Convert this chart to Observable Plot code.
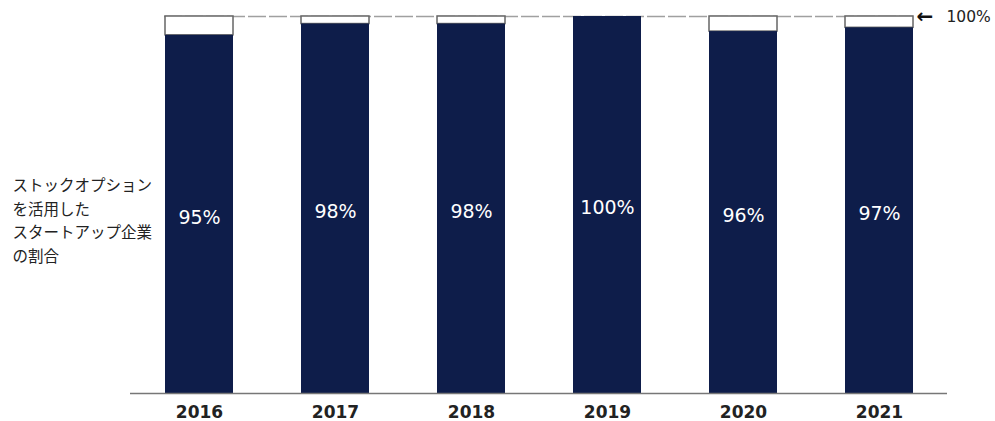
<!DOCTYPE html>
<html>
<head>
<meta charset="utf-8">
<script src="https://cdn.jsdelivr.net/npm/d3@7"></script>
<script src="https://cdn.jsdelivr.net/npm/@observablehq/plot@0.6"></script>
<style>
  html, body { margin: 0; padding: 0; background: #fff; }
  #chart svg { display: block; }
</style>
</head>
<body>
<div id="chart"></div>
<script>
const years = ["2016", "2017", "2018", "2019", "2020", "2021"];
const shares = [0.95, 0.98, 0.98, 1.00, 0.96, 0.97];
const shareLabels = ["95%", "98%", "98%", "100%", "96%", "97%"];
const yAxisLabel = "ストックオプション\nを活用した\nスタートアップ企業\nの割合";
const refArrow = "←";
const refLabel = "100%";

const data = years.map((y, i) => ({year: y, value: shares[i], label: shareLabels[i]}));
const dark = "#0e1d4a";

const chart = Plot.plot({
  width: 995,
  height: 421,
  marginLeft: 130,
  marginRight: 48,
  marginTop: 16,
  marginBottom: 28,
  style: {fontFamily: "'DejaVu Sans', Verdana, sans-serif", background: "#fff"},
  x: {domain: years, paddingInner: 0.5, paddingOuter: 0.25, label: null},
  y: {domain: [0, 1], axis: null},
  marks: [
    Plot.ruleY([1], {stroke: "#a0a0a0", strokeWidth: 1.5, strokeDasharray: "18,3", insetLeft: 34, insetRight: 34}),
    Plot.barY(data, {x: "year", y1: "value", y2: 1, fill: "#fff", stroke: "#666", strokeWidth: 1.5}),
    Plot.barY(data, {x: "year", y1: 0, y2: "value", fill: dark}),
    Plot.ruleY([0], {stroke: "#777", strokeWidth: 1.5}),
    Plot.text(data, {x: "year", y: d => d.value / 2, text: "label", fill: "#fff", fontSize: 19, dy: 3}),
    Plot.axisX({tickSize: 0, tickPadding: 12, fontSize: 17, fontWeight: "bold", fill: "#222"}),
    Plot.text([refArrow], {x: ["2021"], y: [1], text: d => d, textAnchor: "start", dx: 37, dy: 0, fontSize: 20, fontWeight: "bold", fill: "#111"}),
    Plot.text([refLabel], {x: ["2021"], y: [1], text: d => d, textAnchor: "start", dx: 67, dy: 1, fontSize: 15.5, fill: "#222"}),
    Plot.text([yAxisLabel], {frameAnchor: "left", textAnchor: "start", dx: -118, dy: 14, fontSize: 15.5, lineHeight: 1.52, fontFamily: "'Noto Sans CJK JP', sans-serif", fill: "#222"})
  ]
});
document.getElementById("chart").append(chart);
</script>
</body>
</html>
